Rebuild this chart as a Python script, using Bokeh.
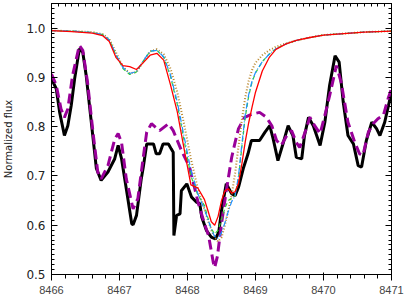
import numpy as np
from bokeh.plotting import figure
from bokeh.models import LinearAxis, FixedTicker, Range1d, PrintfTickFormatter, CustomJSTickFormatter
from bokeh.embed import file_html
from bokeh.resources import INLINE

# ---- data -------------------------------------------------------------
x_ticks = [8466, 8467, 8468, 8469, 8470, 8471]
y_ticks = [0.5, 0.6, 0.7, 0.8, 0.9, 1.0]

obs_wave = [8466.00, 8466.07, 8466.12, 8466.19, 8466.24, 8466.29, 8466.34, 8466.41, 8466.46, 8466.51,
            8466.58, 8466.66, 8466.73, 8466.83, 8466.93, 8466.98, 8467.03, 8467.10, 8467.18, 8467.20,
            8467.25, 8467.32, 8467.35, 8467.40, 8467.50, 8467.54, 8467.59, 8467.64, 8467.72, 8467.76,
            8467.79, 8467.80, 8467.84, 8467.89, 8467.91, 8467.99, 8468.06, 8468.13, 8468.18, 8468.21,
            8468.28, 8468.35, 8468.41, 8468.46, 8468.50, 8468.57, 8468.65, 8468.70, 8468.75, 8468.82,
            8468.89, 8468.94, 8469.01, 8469.06, 8469.14, 8469.21, 8469.26, 8469.33, 8469.41, 8469.48,
            8469.55, 8469.60, 8469.68, 8469.72, 8469.78, 8469.85, 8469.95, 8470.02, 8470.09, 8470.17,
            8470.23, 8470.29, 8470.36, 8470.44, 8470.51, 8470.56, 8470.63, 8470.71, 8470.78, 8470.83,
            8470.90, 8471.00]
obs_flux = [0.897, 0.877, 0.829, 0.782, 0.802, 0.843, 0.897, 0.958, 0.951, 0.904,
            0.816, 0.715, 0.691, 0.708, 0.735, 0.762, 0.735, 0.674, 0.603, 0.601,
            0.620, 0.694, 0.718, 0.765, 0.765, 0.745, 0.745, 0.765, 0.765, 0.755,
            0.748, 0.579, 0.620, 0.623, 0.670, 0.684, 0.657, 0.647, 0.644, 0.616,
            0.589, 0.576, 0.572, 0.586, 0.630, 0.684, 0.664, 0.660, 0.677, 0.715,
            0.745, 0.772, 0.772, 0.772, 0.789, 0.802, 0.775, 0.731, 0.768, 0.802,
            0.782, 0.738, 0.735, 0.782, 0.819, 0.802, 0.762, 0.809, 0.884, 0.944,
            0.931, 0.850, 0.782, 0.765, 0.721, 0.718, 0.772, 0.809, 0.796, 0.782,
            0.809, 0.870]

fit_wave = [8466.00, 8466.07, 8466.14, 8466.19, 8466.24, 8466.31, 8466.41, 8466.46, 8466.53, 8466.61,
            8466.68, 8466.73, 8466.83, 8466.93, 8466.98, 8467.03, 8467.10, 8467.20, 8467.27, 8467.34,
            8467.40, 8467.47, 8467.59, 8467.72, 8467.79, 8467.91, 8468.03, 8468.16, 8468.25, 8468.31,
            8468.38, 8468.40, 8468.44, 8468.50, 8468.57, 8468.65, 8468.70, 8468.75, 8468.84, 8468.94,
            8469.06, 8469.16, 8469.24, 8469.31, 8469.38, 8469.46, 8469.53, 8469.60, 8469.65, 8469.73,
            8469.80, 8469.87, 8469.95, 8470.02, 8470.09, 8470.19, 8470.26, 8470.36, 8470.46, 8470.53,
            8470.58, 8470.66, 8470.73, 8470.80, 8470.88, 8470.95, 8471.00]
fit_flux = [0.907, 0.884, 0.836, 0.819, 0.836, 0.904, 0.965, 0.955, 0.890, 0.789,
            0.708, 0.694, 0.721, 0.775, 0.786, 0.768, 0.694, 0.633, 0.654, 0.728,
            0.789, 0.806, 0.792, 0.806, 0.792, 0.752, 0.718, 0.644, 0.603, 0.579,
            0.524, 0.514, 0.537, 0.603, 0.670, 0.738, 0.768, 0.796, 0.819, 0.825,
            0.829, 0.819, 0.802, 0.772, 0.762, 0.782, 0.792, 0.768, 0.758, 0.789,
            0.819, 0.802, 0.786, 0.823, 0.863, 0.924, 0.890, 0.809, 0.768, 0.745,
            0.742, 0.789, 0.806, 0.816, 0.823, 0.857, 0.877]

model_wave = [8466.0, 8466.3, 8466.6, 8466.75, 8466.85, 8466.95, 8467.05, 8467.15, 8467.25, 8467.35,
              8467.45, 8467.55, 8467.65, 8467.75, 8467.85, 8467.95, 8468.05, 8468.15, 8468.25, 8468.3,
              8468.35, 8468.4, 8468.45, 8468.5, 8468.55, 8468.6, 8468.65, 8468.7, 8468.75, 8468.8,
              8468.85, 8468.9, 8468.95, 8469.0, 8469.1, 8469.2, 8469.3, 8469.45, 8469.6, 8469.8,
              8470.0, 8470.3, 8470.6, 8471.0]
model_red = [0.995, 0.993, 0.990, 0.985, 0.973, 0.940, 0.924, 0.922, 0.916, 0.930,
             0.945, 0.949, 0.935, 0.885, 0.830, 0.755, 0.682, 0.676, 0.652, 0.630,
             0.607, 0.600, 0.618, 0.650, 0.670, 0.674, 0.665, 0.668, 0.685, 0.725,
             0.770, 0.808, 0.840, 0.870, 0.913, 0.940, 0.957, 0.968, 0.975, 0.981,
             0.986, 0.989, 0.992, 0.994]
model_blue = [0.995, 0.994, 0.991, 0.987, 0.976, 0.946, 0.920, 0.908, 0.912, 0.934,
              0.953, 0.955, 0.942, 0.905, 0.850, 0.780, 0.712, 0.665, 0.632, 0.612,
              0.592, 0.577, 0.573, 0.585, 0.605, 0.628, 0.648, 0.660, 0.700, 0.765,
              0.825, 0.865, 0.893, 0.910, 0.932, 0.947, 0.958, 0.968, 0.975, 0.981,
              0.986, 0.989, 0.992, 0.994]
model_green = [0.995, 0.994, 0.991, 0.987, 0.976, 0.945, 0.918, 0.906, 0.911, 0.933,
               0.953, 0.955, 0.941, 0.902, 0.845, 0.772, 0.700, 0.662, 0.640, 0.615,
               0.593, 0.582, 0.590, 0.612, 0.635, 0.650, 0.655, 0.660, 0.695, 0.760,
               0.820, 0.862, 0.891, 0.909, 0.932, 0.947, 0.958, 0.968, 0.975, 0.981,
               0.986, 0.989, 0.992, 0.994]
model_brown = [0.995, 0.994, 0.992, 0.988, 0.978, 0.950, 0.922, 0.908, 0.911, 0.932,
               0.953, 0.957, 0.947, 0.918, 0.870, 0.805, 0.735, 0.675, 0.632, 0.610,
               0.590, 0.575, 0.567, 0.575, 0.600, 0.630, 0.662, 0.705, 0.760, 0.815,
               0.860, 0.893, 0.915, 0.930, 0.945, 0.955, 0.962, 0.969, 0.975, 0.981,
               0.986, 0.989, 0.992, 0.994]

# ---- figure -----------------------------------------------------------
p = figure(x_range=Range1d(8466, 8471), y_range=Range1d(0.5, 1.05),
           frame_width=340, frame_height=271,
           min_border_left=50, min_border_right=15, min_border_top=3, min_border_bottom=22,
           output_backend="svg", toolbar_location=None)
p.background_fill_color = "white"
p.border_fill_color = "white"
p.outline_line_color = "black"
p.xgrid.visible = False
p.ygrid.visible = False

x_minor = np.round(np.arange(8466.0, 8471.001, 0.1), 2).tolist()
y_minor = np.round(np.arange(0.5, 1.0501, 0.01), 3).tolist()
xt = FixedTicker(ticks=x_ticks, minor_ticks=x_minor)
yt = FixedTicker(ticks=y_ticks, minor_ticks=y_minor)

top_axis = LinearAxis(ticker=xt, formatter=CustomJSTickFormatter(code="return ''"))
right_axis = LinearAxis(ticker=yt, formatter=CustomJSTickFormatter(code="return ''"))
p.add_layout(top_axis, "above")
p.add_layout(right_axis, "right")

p.xaxis[0].ticker = xt
p.yaxis[0].ticker = yt
p.yaxis[0].formatter = PrintfTickFormatter(format="%.1f")
p.yaxis[0].axis_label = "Normalized flux"
p.yaxis[0].axis_label_text_font = "DejaVu Sans"
p.yaxis[0].axis_label_text_font_size = "10px"
p.yaxis[0].axis_label_text_font_style = "normal"
p.yaxis[0].axis_label_text_color = "#222222"
p.yaxis[0].axis_label_standoff = 9

for ax in [p.xaxis[0], p.yaxis[0], top_axis, right_axis]:
    ax.major_tick_in = 6
    ax.major_tick_out = 0
    ax.minor_tick_in = 3
    ax.minor_tick_out = 0
    ax.axis_line_color = "black"
    ax.major_tick_line_color = "black"
    ax.minor_tick_line_color = "black"
    ax.major_label_text_font = "DejaVu Sans"
    ax.major_label_text_font_size = "12px"
    ax.major_label_text_color = "#222222"

p.xaxis[0].major_label_standoff = 3
p.yaxis[0].major_label_standoff = 6
top_axis.major_label_standoff = 0
right_axis.major_label_standoff = 0

# ---- lines ------------------------------------------------------------
p.line(obs_wave, obs_flux, line_color="black", line_width=3)
p.line(fit_wave, fit_flux, line_color="#990099", line_width=3, line_dash="10 5")
p.line(model_wave, model_brown, line_color="#b8862b", line_width=2, line_dash="1 2")
p.line(model_wave, model_green, line_color="#33cc33", line_width=1.2, line_dash="4 3")
p.line(model_wave, model_blue, line_color="#1e90ff", line_width=1.2, line_dash="6 2 1 2")
p.line(model_wave, model_red, line_color="#ff0000", line_width=1.3)

open("out.html", "w").write(file_html(p, INLINE))
